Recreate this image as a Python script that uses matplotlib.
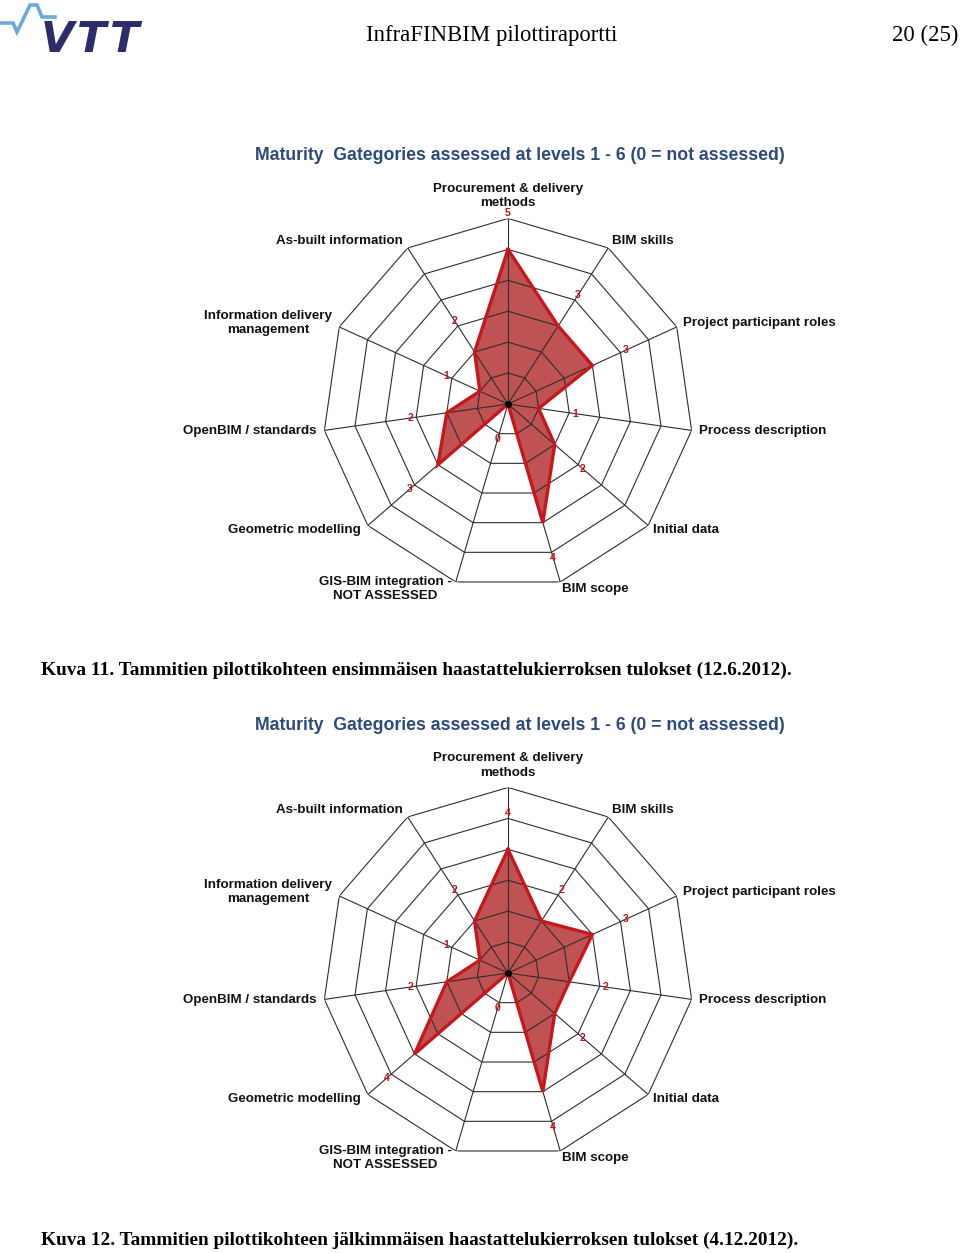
import numpy as np
import matplotlib
matplotlib.use("Agg")
import matplotlib.pyplot as plt

# ---------------- data ----------------
categories = [
    "Procurement & delivery\nmethods",
    "BIM skills",
    "Project participant roles",
    "Process description",
    "Initial data",
    "BIM scope",
    "GIS-BIM integration -\nNOT ASSESSED",
    "Geometric modelling",
    "OpenBIM / standards",
    "Information delivery\nmanagement",
    "As-built information",
]
values_first = [5, 3, 3, 1, 2, 4, 0, 3, 2, 1, 2]
values_second = [4, 2, 3, 2, 2, 4, 0, 4, 2, 1, 2]
levels = [1, 2, 3, 4, 5, 6]

chart_title = "Maturity  Gategories assessed at levels 1 - 6 (0 = not assessed)"
caption_first = "Kuva 11. Tammitien pilottikohteen ensimmäisen haastattelukierroksen tulokset (12.6.2012)."
caption_second = "Kuva 12. Tammitien pilottikohteen jälkimmäisen haastattelukierroksen tulokset (4.12.2012)."
header_text = "InfraFINBIM pilottiraportti"
page_text = "20 (25)"

# ---------------- layout ----------------
W, H = 960, 1253
fig = plt.figure(figsize=(W / 100, H / 100), dpi=100)
renderer = fig.canvas.get_renderer()

GRID = "#2e2e2e"
FILL = "#bf5252"
EDGE = "#c8161c"
NUMCOL = "#c0141c"
TITLECOL = "#2c4a7c"

label_style = [
    ("center", "bottom", 0, 9),
    ("left", "center", 4, 7),
    ("left", "center", 6, 4),
    ("left", "center", 7, -1),
    ("left", "center", 5, -5),
    ("left", "center", 2, -7),
    ("right", "center", -4, -7),
    ("right", "center", -7, -5),
    ("right", "center", -8, -1),
    ("right", "center", -7, 4),
    ("right", "center", -5, 7),
]


def fit_width(txt, target):
    bb = txt.get_window_extent(renderer)
    txt.set_fontsize(txt.get_fontsize() * target / bb.width)


def radar(cx, cy, R, values):
    ax = fig.add_axes([(cx - R) / W, (H - cy - R) / H, 2 * R / W, 2 * R / H],
                      projection="polar")
    ax.set_theta_offset(np.pi / 2)
    ax.set_theta_direction(-1)
    ax.set_ylim(0, max(levels))
    ax.grid(False)
    ax.spines["polar"].set_visible(False)
    ax.set_xticks([])
    ax.set_yticks([])
    ax.patch.set_visible(False)

    n = len(categories)
    ang = np.arange(n) * 2 * np.pi / n
    ang_c = np.append(ang, ang[0])
    vals = np.array(values, dtype=float)
    vals_c = np.append(vals, vals[0])

    ax.fill(ang_c, vals_c, color=FILL, zorder=1, lw=0)
    for lv in levels:
        ax.plot(ang_c, [lv] * len(ang_c), color=GRID, lw=0.8, zorder=2)
    for a in ang:
        ax.plot([a, a], [0, max(levels)], color=GRID, lw=0.8, zorder=2)
    ax.plot(ang_c, vals_c, color=EDGE, lw=2.4, zorder=3, solid_joinstyle="miter")
    ax.plot([0], [0], "o", color="black", ms=4, zorder=4)

    for a, v in zip(ang, values):
        ax.text(a, v + 1.19, str(v), ha="center", va="center", color=NUMCOL,
                fontsize=7.5, fontweight="bold", family="Liberation Sans", zorder=5)

    for a, lab, (ha, va, dx, dy) in zip(ang, categories, label_style):
        ax.annotate(lab, xy=(a, max(levels)), xytext=(dx, dy),
                    textcoords="offset pixels", ha=ha, va=va,
                    multialignment="center", fontsize=9.6, fontweight="bold",
                    family="Liberation Sans", linespacing=1.25, color="#111111",
                    annotation_clip=False)
    return ax


# charts
R = 185.5
radar(508, 404, R, values_first)
radar(508, 973, R, values_second)

# titles
for ty in (156, 726):
    t = fig.text(520 / W, 1 - ty / H, chart_title, ha="center", va="center",
                 color=TITLECOL, fontsize=12.5, fontweight="bold",
                 family="Liberation Sans")
    fit_width(t, 530)

# captions
c1 = fig.text(41 / W, 1 - 670 / H, caption_first, ha="left", va="center",
              fontsize=13, fontweight="bold", family="Liberation Serif")
fit_width(c1, 746)
c2 = fig.text(41 / W, 1 - 1240 / H, caption_second, ha="left", va="center",
              fontsize=c1.get_fontsize(), fontweight="bold",
              family="Liberation Serif")

# header
h1 = fig.text(491.5 / W, 1 - 35 / H, header_text, ha="center", va="center",
              fontsize=16.5, family="Liberation Serif")
fit_width(h1, 251)
fig.text(958 / W, 1 - 35 / H, page_text, ha="right", va="center",
         fontsize=h1.get_fontsize(), family="Liberation Serif")

# logo
lax = fig.add_axes([0, 1 - 57 / H, 150 / W, 57 / H])
lax.set_xlim(0, 150)
lax.set_ylim(57, 0)
lax.axis("off")
pulse_x = [1, 13, 17, 30, 37, 42, 55]
pulse_y = [23, 23, 32, 5, 5, 17, 17]
lax.plot(pulse_x, pulse_y, color="#6aaade", lw=2.6, solid_joinstyle="miter")
for lx, ch in zip([57, 92, 125], ["V", "T", "T"]):
    lax.text(lx, 40, ch, ha="center", va="center", fontsize=31,
             fontweight="heavy", fontstyle="italic", family="DejaVu Sans",
             color="#2b2e6b")

fig.savefig("out.png", dpi=100)
